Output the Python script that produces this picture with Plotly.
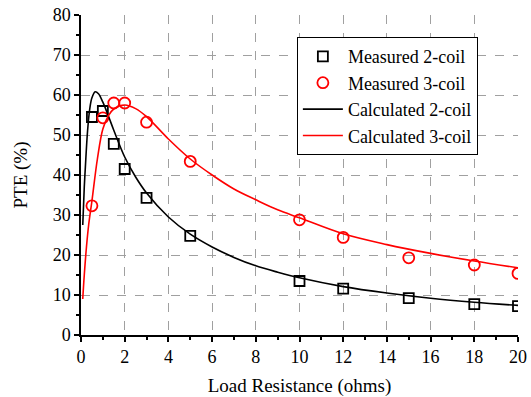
import plotly.graph_objects as go

# Measured data
meas_r = [0.5, 1, 1.5, 2, 3, 5, 10, 12, 15, 18, 20]
meas_2coil = [54.5, 56.0, 47.8, 41.5, 34.3, 24.8, 13.5, 11.6, 9.2, 7.7, 7.2]
meas_3coil = [32.3, 54.3, 58.0, 58.0, 53.2, 43.4, 28.8, 24.4, 19.3, 17.5, 15.4]

# Calculated curves
calc2_r = [0.08, 0.15, 0.2, 0.3, 0.4, 0.5, 0.65, 0.8, 1.0, 1.25, 1.5, 2, 2.5, 3, 4, 5, 6, 7, 8, 9, 10, 12, 14, 16, 18, 20]
calc2_v = [27.5, 37.0, 42.0, 51.0, 56.5, 59.3, 60.8, 60.3, 58.2, 54.8, 51.2, 44.5, 39.5, 35.5, 29.5, 25.2, 22.0, 19.4, 17.3, 15.7, 14.3, 12.1, 10.5, 9.2, 8.2, 7.4]
calc3_r = [0.08, 0.15, 0.25, 0.35, 0.5, 0.75, 1.0, 1.25, 1.5, 2.0, 2.5, 3, 4, 5, 6, 7, 8, 9, 10, 12, 14, 16, 18, 20]
calc3_v = [9.0, 15.0, 22.0, 27.5, 33.5, 44.0, 51.5, 54.8, 56.5, 57.5, 56.6, 54.6, 49.0, 44.0, 40.0, 36.5, 33.8, 31.3, 29.3, 25.3, 22.6, 20.4, 18.5, 16.8]

FONT = "Liberation Serif, Times New Roman, serif"

fig = go.Figure()
fig.add_trace(go.Scatter(x=meas_r, y=meas_2coil, mode="markers", name="Measured 2-coil",
                         marker=dict(symbol="square-open", size=10, color="black", line=dict(width=1.8))))
fig.add_trace(go.Scatter(x=meas_r, y=meas_3coil, mode="markers", name="Measured 3-coil",
                         marker=dict(symbol="circle-open", size=11, color="red", line=dict(width=1.8))))
fig.add_trace(go.Scatter(x=calc2_r, y=calc2_v, mode="lines", name="Calculated 2-coil",
                         line=dict(color="black", width=1.6, shape="spline")))
fig.add_trace(go.Scatter(x=calc3_r, y=calc3_v, mode="lines", name="Calculated 3-coil",
                         line=dict(color="red", width=1.6, shape="spline")))

axis_common = dict(
    showline=True, linecolor="black", linewidth=1.5,
    ticks="outside", ticklen=5, tickwidth=1.5, tickcolor="black",
    showgrid=True, gridcolor="#a0a0a0", griddash="dash", gridwidth=1,
    zeroline=False, mirror=False, automargin=False,
    tickfont=dict(family=FONT, size=18, color="black"),
)

fig.update_xaxes(range=[0, 20], dtick=2, tick0=0,
                 minor=dict(dtick=1, ticks="outside", ticklen=3, tickwidth=1.5, tickcolor="black", showgrid=False),
                 title=dict(text="Load Resistance (ohms)", font=dict(family=FONT, size=19, color="black"), standoff=14),
                 **axis_common)
fig.update_yaxes(range=[0, 80], dtick=10, tick0=0,
                 minor=dict(dtick=5, ticks="outside", ticklen=3, tickwidth=1.5, tickcolor="black", showgrid=False),
                 title=dict(text="PTE (%)", font=dict(family=FONT, size=19, color="black"), standoff=20),
                 **axis_common)

fig.update_layout(
    width=531, height=397,
    margin=dict(l=81, r=13, t=15, b=62),
    plot_bgcolor="white", paper_bgcolor="white",
    font=dict(family=FONT, size=18, color="black"),
    legend=dict(x=0.494, y=0.931, xanchor="left", yanchor="top",
                bgcolor="white", bordercolor="black", borderwidth=1,
                font=dict(family=FONT, size=18, color="black"),
                tracegroupgap=0, itemwidth=40),
    showlegend=True,
)

fig.write_html("out.html", config={"displayModeBar": False},
               post_script="document.body.style.margin='0';document.body.style.overflow='hidden';")
